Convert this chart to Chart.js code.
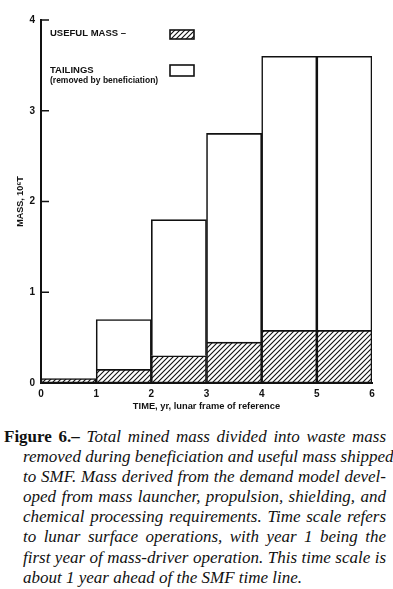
<!DOCTYPE html>
<html>
<head>
<meta charset="utf-8">
<script src="https://cdn.jsdelivr.net/npm/chart.js@4.4.1/dist/chart.umd.min.js"></script>
<style>
  html, body { margin: 0; padding: 0; background: #fff; }
  body { width: 393px; height: 589px; position: relative; overflow: hidden; }
  #chartBox { position: absolute; left: 0; top: 0; width: 393px; height: 420px; }
  #caption {
    position: absolute; left: 4px; top: 427px; width: 382px;
    font-family: "Liberation Serif", "DejaVu Serif", serif;
    font-size: 17px; line-height: 20.1px; color: #111;
  }
  #caption .ln { text-align: justify; text-align-last: justify; padding-left: 19px; white-space: nowrap; }
  #caption .ln.first { padding-left: 0; }
  #caption .ln.last { text-align-last: left; }
  #caption i { font-style: italic; }
  #caption b { font-weight: bold; }
</style>
</head>
<body>
<div id="chartBox"><canvas id="massChart"></canvas></div>
<div id="caption">
  <div class="ln first"><b>Figure 6.–</b> <i>Total mined mass divided into waste mass</i></div>
  <div class="ln"><i>removed during beneficiation and useful mass shipped</i></div>
  <div class="ln"><i>to SMF. Mass derived from the demand model devel-</i></div>
  <div class="ln"><i>oped from mass launcher, propulsion, shielding, and</i></div>
  <div class="ln"><i>chemical processing requirements. Time scale refers</i></div>
  <div class="ln"><i>to lunar surface operations, with year 1 being the</i></div>
  <div class="ln"><i>first year of mass-driver operation. This time scale is</i></div>
  <div class="ln last"><i>about 1 year ahead of the SMF time line.</i></div>
</div>
<script>
// data (10^6 T per year, bars span year n..n+1)
const years = [0.5, 1.5, 2.5, 3.5, 4.5, 5.5];
const usefulMass = [0.05, 0.15, 0.30, 0.45, 0.58, 0.58];
const tailings = [0, 0.55, 1.50, 2.30, 3.02, 3.02];
const xTicks = [0, 1, 2, 3, 4, 5, 6];
const yTicks = [0, 1, 2, 3, 4];

const sansBold = '"Liberation Sans", Arial, sans-serif';

// diagonal hatch for useful mass
function makeHatch() {
    const c = document.createElement('canvas');
    c.width = 5; c.height = 5;
    const g = c.getContext('2d');
    g.fillStyle = '#fff';
    g.fillRect(0, 0, 5, 5);
    g.strokeStyle = '#111';
    g.lineWidth = 1.1;
    g.beginPath();
    g.moveTo(-1, 6); g.lineTo(6, -1);
    g.moveTo(-1, 1); g.lineTo(1, -1);
    g.moveTo(4, 6); g.lineTo(6, 4);
    g.stroke();
    return g.createPattern(c, 'repeat');
}
const hatch = makeHatch();

// legend and inward y ticks drawn on top
const extras = {
    id: 'extras',
    afterDraw(chart) {
        const ctx = chart.ctx;
        const ys = chart.scales.y;
        const left = chart.chartArea.left;
        ctx.save();
        ctx.strokeStyle = '#111';
        ctx.lineWidth = 1.5;
        yTicks.forEach(v => {
            if (v === 0) return;
            const py = ys.getPixelForValue(v);
            ctx.beginPath();
            ctx.moveTo(left, py);
            ctx.lineTo(left + 8, py);
            ctx.stroke();
        });

        ctx.fillStyle = '#111';
        ctx.textBaseline = 'middle';
        ctx.textAlign = 'left';
        ctx.font = 'bold 9.5px ' + sansBold;
        ctx.fillText('USEFUL MASS –', 50, 33);
        ctx.fillText('TAILINGS', 50, 70);
        ctx.font = 'bold 8.5px ' + sansBold;
        ctx.fillText('(removed by beneficiation)', 50, 81);

        ctx.lineWidth = 1.6;
        ctx.fillStyle = hatch;
        ctx.fillRect(170, 30, 24, 9);
        ctx.strokeRect(170, 30, 24, 9);
        ctx.fillStyle = '#fff';
        ctx.fillRect(170, 65, 24, 11);
        ctx.strokeRect(170, 65, 24, 11);
        ctx.restore();
    }
};

const ctx = document.getElementById('massChart').getContext('2d');

new Chart(ctx, {
    type: 'bar',
    data: {
        datasets: [
            {
                label: 'Useful mass',
                data: years.map((x, i) => ({ x: x, y: usefulMass[i] })),
                backgroundColor: hatch,
                borderColor: '#111',
                borderWidth: 1.6,
                borderSkipped: false,
                barPercentage: 1,
                categoryPercentage: 1
            },
            {
                label: 'Tailings',
                data: years.map((x, i) => ({ x: x, y: tailings[i] })),
                backgroundColor: '#fff',
                borderColor: '#111',
                borderWidth: 1.6,
                borderSkipped: 'start',
                barPercentage: 1,
                categoryPercentage: 1
            }
        ]
    },
    options: {
        responsive: true,
        maintainAspectRatio: false,
        animation: false,
        layout: { padding: { top: 20, right: 21, left: 0, bottom: 8 } },
        plugins: {
            legend: { display: false },
            tooltip: { enabled: false }
        },
        scales: {
            x: {
                type: 'linear',
                stacked: true,
                offset: false,
                min: 0,
                max: 6,
                afterBuildTicks: (s) => { s.ticks = xTicks.map(v => ({ value: v })); },
                afterFit: (s) => { s.height = 29; },
                grid: { display: false, drawTicks: false },
                border: { display: true, color: '#111', width: 2 },
                ticks: {
                    padding: 5,
                    color: '#111',
                    font: { family: sansBold, weight: 'bold', size: 10 },
                    maxRotation: 0
                },
                title: {
                    display: true,
                    text: 'TIME, yr, lunar frame of reference',
                    color: '#111',
                    font: { family: sansBold, weight: 'bold', size: 9.3 },
                    padding: { top: 1, bottom: 0 }
                }
            },
            y: {
                stacked: true,
                min: 0,
                max: 4,
                afterBuildTicks: (s) => { s.ticks = yTicks.map(v => ({ value: v })); },
                afterFit: (s) => { s.width = 41; },
                grid: { display: false, drawTicks: false },
                border: { display: true, color: '#111', width: 2 },
                ticks: {
                    padding: 6,
                    color: '#111',
                    font: { family: sansBold, weight: 'bold', size: 10 }
                },
                title: {
                    display: true,
                    text: 'MASS, 10⁶T',
                    color: '#111',
                    font: { family: sansBold, weight: 'bold', size: 9 },
                    padding: { top: 15, bottom: 0 }
                }
            }
        }
    },
    plugins: [extras]
});
</script>
</body>
</html>
